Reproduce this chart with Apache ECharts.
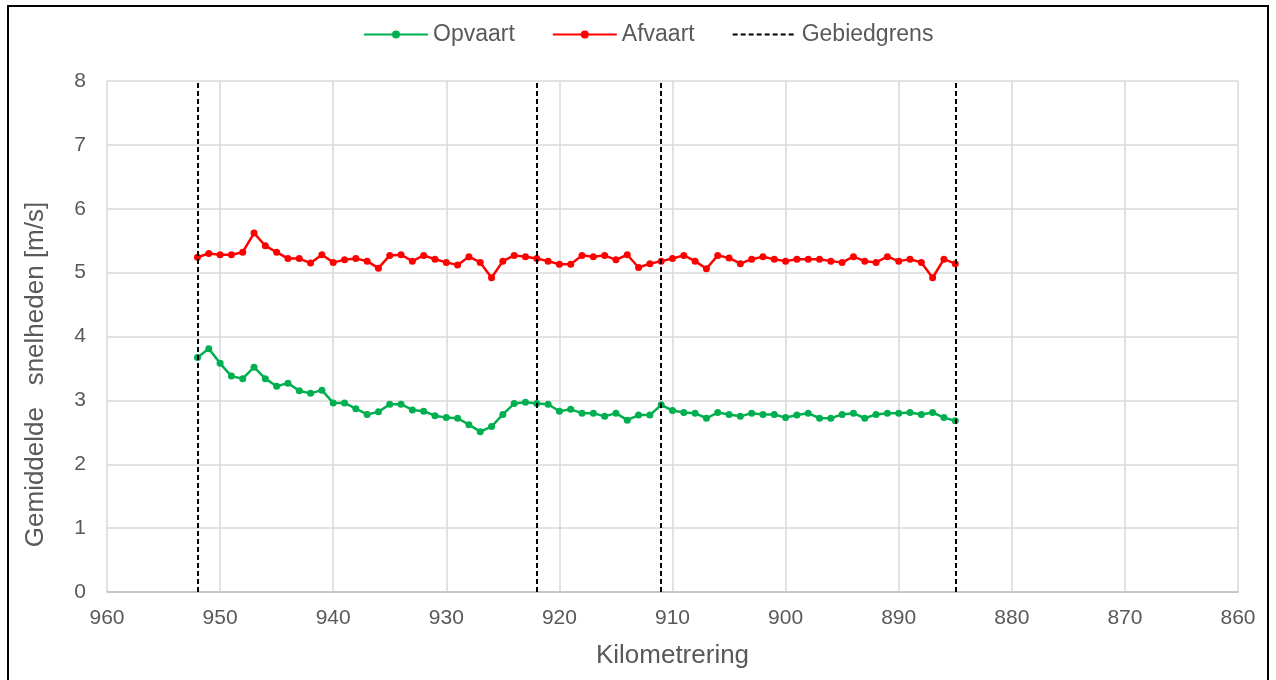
<!DOCTYPE html>
<html><head><meta charset="utf-8">
<script src="https://cdn.jsdelivr.net/npm/echarts@6/dist/echarts.min.js"></script>
<style>
html,body{margin:0;padding:0;background:#fff;}
#frame{position:absolute;left:7px;top:5px;width:1262px;height:690px;border:2px solid #000;box-sizing:border-box;}
#chart{position:absolute;left:0;top:0;width:1276px;height:680px;}
</style></head>
<body>
<div id="frame"></div>
<div id="chart"></div>
<script>
const km = [952,951,950,949,948,947,946,945,944,943,942,941,940,939,938,937,936,935,934,933,932,931,930,929,928,927,926,925,924,923,922,921,920,919,918,917,916,915,914,913,912,911,910,909,908,907,906,905,904,903,902,901,900,899,898,897,896,895,894,893,892,891,890,889,888,887,886,885];
const opvaart = [3.67,3.81,3.58,3.38,3.34,3.52,3.34,3.22,3.27,3.15,3.11,3.16,2.96,2.96,2.87,2.78,2.82,2.94,2.94,2.85,2.83,2.76,2.73,2.72,2.62,2.51,2.59,2.78,2.95,2.97,2.95,2.94,2.83,2.86,2.80,2.80,2.75,2.80,2.69,2.77,2.77,2.93,2.84,2.81,2.80,2.72,2.81,2.78,2.75,2.80,2.78,2.78,2.73,2.77,2.80,2.72,2.72,2.78,2.80,2.72,2.78,2.80,2.80,2.81,2.78,2.81,2.73,2.68];
const afvaart = [5.24,5.30,5.28,5.28,5.32,5.62,5.42,5.32,5.22,5.22,5.15,5.28,5.16,5.20,5.22,5.18,5.07,5.27,5.28,5.18,5.27,5.21,5.16,5.12,5.25,5.16,4.92,5.18,5.27,5.25,5.22,5.18,5.13,5.13,5.27,5.25,5.27,5.20,5.28,5.08,5.14,5.18,5.22,5.27,5.18,5.06,5.27,5.23,5.14,5.21,5.25,5.21,5.18,5.21,5.21,5.21,5.18,5.16,5.25,5.18,5.16,5.25,5.18,5.21,5.16,4.92,5.21,5.14];
const gebiedgrens = [952,922,911,885];
const xMin = 860, xMax = 960, yMin = 0, yMax = 8;

const font = 'Liberation Sans, Arial, sans-serif';
const txt = '#595959';
const chart = echarts.init(document.getElementById('chart'));
chart.setOption({
  animation:false,
  textStyle:{fontFamily:font},
  legend:{
    top:18, left:358, itemGap:37, itemWidth:64, itemHeight:10,
    textStyle:{fontSize:23,color:txt,fontFamily:font},
    data:['Opvaart','Afvaart',{name:'Gebiedgrens',itemStyle:{opacity:0}}]
  },
  grid:{left:107,right:38,top:81,bottom:88},
  xAxis:{
    type:'value', inverse:true, min:xMin, max:xMax, interval:10,
    name:'Kilometrering', nameLocation:'middle', nameGap:51,
    nameTextStyle:{fontSize:26,color:txt,fontFamily:font},
    axisLine:{show:true,lineStyle:{color:'#bfbfbf',width:1.5}},
    axisTick:{show:false},
    axisLabel:{fontSize:21,color:txt,margin:16,fontFamily:font},
    splitLine:{show:true,lineStyle:{color:'#d9d9d9',width:1.5}}
  },
  yAxis:{
    type:'value', min:yMin, max:yMax, interval:1,
    name:'Gemiddelde   snelheden [m/s]', nameLocation:'middle', nameGap:58,
    nameTextStyle:{fontSize:26,color:txt,fontFamily:font,padding:[0,76,0,0]},
    axisLine:{show:false}, axisTick:{show:false},
    axisLabel:{fontSize:21,color:txt,margin:21,fontFamily:font},
    splitLine:{show:true,lineStyle:{color:'#d9d9d9',width:1.5}}
  },
  series:[
    {name:'Opvaart',type:'line',data:km.map((k,i)=>[k,opvaart[i]]),
     symbol:'circle',symbolSize:7,color:'#00B050',
     lineStyle:{width:2.5,color:'#00B050'},itemStyle:{color:'#00B050'},z:3},
    {name:'Afvaart',type:'line',data:km.map((k,i)=>[k,afvaart[i]]),
     symbol:'circle',symbolSize:7,color:'#FF0000',
     lineStyle:{width:2.5,color:'#FF0000'},itemStyle:{color:'#FF0000'},z:3},
    {name:'Gebiedgrens',type:'line',data:[],symbol:'none',color:'#000',
     lineStyle:{type:[5,3],width:2,color:'#000'},
     markLine:{silent:true,symbol:'none',label:{show:false},
       lineStyle:{type:[5,3],width:2,color:'#000'},
       data:gebiedgrens.map(v=>({xAxis:v}))},z:2}
  ]
});
</script>
</body></html>
